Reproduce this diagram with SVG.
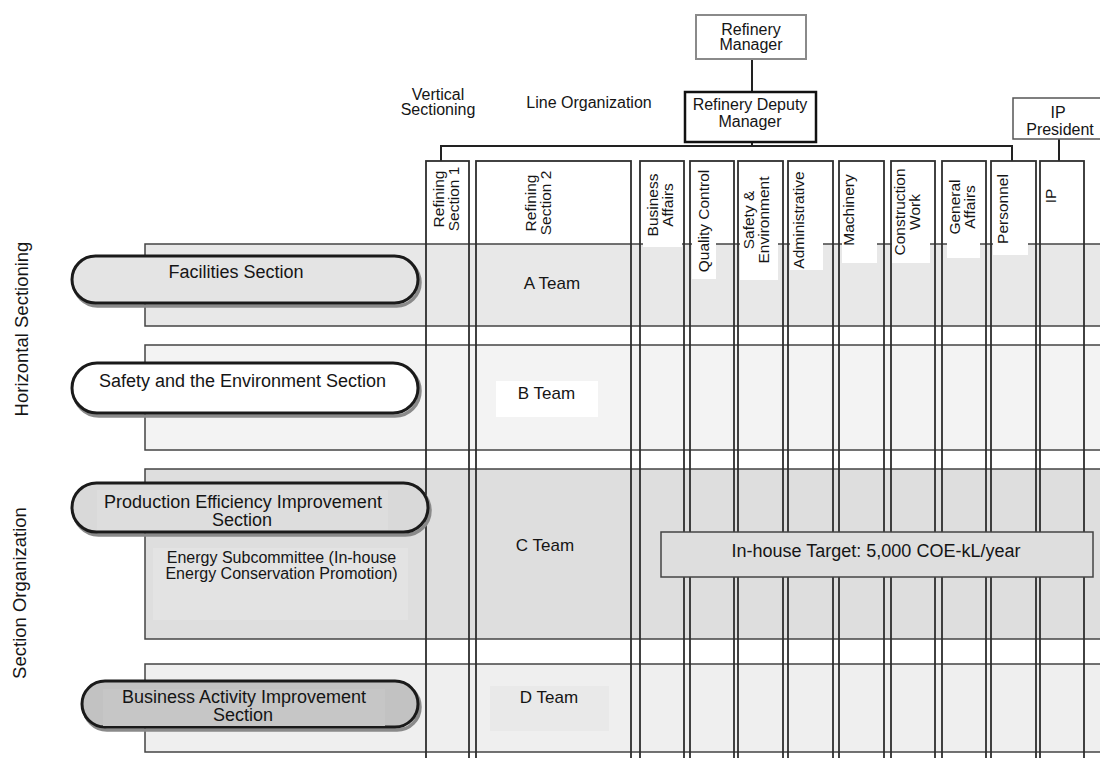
<svg xmlns="http://www.w3.org/2000/svg" width="1100" height="758" viewBox="0 0 1100 758">
<style>
text{font-family:"Liberation Sans",Arial,sans-serif;fill:#151515}
.lbl{font-size:16px}
.col-t{font-size:15.5px}
.pill-t{font-size:18px}
.team{font-size:17px}
.side{font-size:18.5px}
.row{stroke:#444;stroke-width:1.5}
.col{fill:none;stroke:#2e2e2e;stroke-width:1.8}
.pill{stroke:#1a1a1a;stroke-width:3}
.shadow{fill:none;stroke:#8a8a8a;stroke-width:3.5}
.conn{fill:none;stroke:#222;stroke-width:2}
</style>
<rect width="1100" height="758" fill="#ffffff"/>

<!-- Row bands -->
<g id="rows">
<rect id="row-a" class="row" x="145" y="244" width="970" height="82" fill="#e8e8e8"/>
<rect id="row-b" class="row" x="145" y="345" width="970" height="105" fill="#f3f3f3"/>
<rect id="row-c" class="row" x="145" y="469" width="970" height="170" fill="#dedede"/>
<rect id="row-d" class="row" x="145" y="664" width="970" height="88" fill="#efefef"/>
<rect x="153" y="548" width="255" height="72" fill="#e3e3e3"/>
<rect x="490" y="686" width="119" height="45" fill="#e9e9e9"/>
<rect x="496" y="381" width="102" height="36" fill="#ffffff"/>
</g>

<!-- white label backgrounds extending below header -->
<g id="label-bgs" fill="#ffffff">
<rect x="643" y="240" width="39" height="7"/>
<rect x="692" y="240" width="24" height="39"/>
<rect x="740" y="240" width="38" height="40"/>
<rect x="790" y="240" width="33" height="30"/>
<rect x="842" y="240" width="35" height="23"/>
<rect x="892" y="240" width="38" height="23"/>
<rect x="947" y="240" width="33" height="18"/>
<rect x="993" y="240" width="35" height="15"/>
</g>

<!-- Connectors -->
<g id="connectors">
<line class="conn" x1="752" y1="59" x2="752" y2="92"/>
<line class="conn" x1="752" y1="142" x2="752" y2="146"/>
<path class="conn" d="M441 161 V146 H1012 V161"/>
<line class="conn" x1="1059" y1="139" x2="1059" y2="161"/>
</g>

<!-- Column nodes -->
<g id="col-refining1"><rect class="col" x="426" y="161" width="43" height="620"/>
<text class="col-t" text-anchor="middle" transform="translate(443.5,199) rotate(-90)"><tspan x="0" y="0">Refining</tspan><tspan x="0" y="15">Section 1</tspan></text></g>
<g id="col-refining2"><rect class="col" x="476" y="161" width="155" height="620"/>
<text class="col-t" text-anchor="middle" transform="translate(535.5,203) rotate(-90)"><tspan x="0" y="0">Refining</tspan><tspan x="0" y="15">Section 2</tspan></text></g>
<g id="col-business"><rect class="col" x="640" y="161" width="44" height="620"/>
<text class="col-t" text-anchor="middle" transform="translate(657.5,205) rotate(-90)"><tspan x="0" y="0">Business</tspan><tspan x="0" y="15">Affairs</tspan></text></g>
<g id="col-quality"><rect class="col" x="690" y="161" width="44" height="620"/>
<text class="col-t" text-anchor="middle" transform="translate(708.5,221) rotate(-90)">Quality Control</text></g>
<g id="col-safety"><rect class="col" x="738" y="161" width="45" height="620"/>
<text class="col-t" text-anchor="middle" transform="translate(753.5,220) rotate(-90)"><tspan x="0" y="0">Safety &amp;</tspan><tspan x="0" y="15">Environment</tspan></text></g>
<g id="col-admin"><rect class="col" x="788" y="161" width="45" height="620"/>
<text class="col-t" text-anchor="middle" transform="translate(803.5,220) rotate(-90)">Administrative</text></g>
<g id="col-machinery"><rect class="col" x="839" y="161" width="45" height="620"/>
<text class="col-t" text-anchor="middle" transform="translate(853.5,210) rotate(-90)">Machinery</text></g>
<g id="col-construction"><rect class="col" x="891" y="161" width="44" height="620"/>
<text class="col-t" text-anchor="middle" transform="translate(904.5,212) rotate(-90)"><tspan x="0" y="0">Construction</tspan><tspan x="0" y="15">Work</tspan></text></g>
<g id="col-general"><rect class="col" x="942" y="161" width="44" height="620"/>
<text class="col-t" text-anchor="middle" transform="translate(959.5,207) rotate(-90)"><tspan x="0" y="0">General</tspan><tspan x="0" y="15">Affairs</tspan></text></g>
<g id="col-personnel"><rect class="col" x="991" y="161" width="45" height="620"/>
<text class="col-t" text-anchor="middle" transform="translate(1007.5,209) rotate(-90)">Personnel</text></g>
<g id="col-ip"><rect class="col" x="1040" y="161" width="44" height="620"/>
<text class="col-t" text-anchor="middle" transform="translate(1055.5,196) rotate(-90)">IP</text></g>

<!-- Top management nodes -->
<g id="refinery-manager">
<rect x="696" y="15" width="110" height="44" fill="#fff" stroke="#8a8a8a" stroke-width="2"/>
<text class="lbl" text-anchor="middle" x="751" y="35">Refinery</text>
<text class="lbl" text-anchor="middle" x="751" y="50">Manager</text>
</g>
<g id="deputy-manager">
<rect x="685" y="92" width="131" height="50" fill="#fff" stroke="#111" stroke-width="2.5"/>
<text class="lbl" text-anchor="middle" x="750" y="110">Refinery Deputy</text>
<text class="lbl" text-anchor="middle" x="750" y="127">Manager</text>
</g>
<g id="ip-president">
<rect x="1013" y="98" width="100" height="41" fill="#fff" stroke="#555" stroke-width="1.5"/>
<text class="lbl" text-anchor="middle" x="1058" y="118">IP</text>
<text class="lbl" text-anchor="middle" x="1060" y="135">President</text>
</g>

<!-- Header labels -->
<g id="vertical-sectioning">
<text class="lbl" text-anchor="middle" x="438" y="100">Vertical</text>
<text class="lbl" text-anchor="middle" x="438" y="115">Sectioning</text>
</g>
<g id="line-organization"><text class="lbl" text-anchor="middle" x="589" y="108">Line Organization</text></g>
<g id="horizontal-sectioning"><text class="side" text-anchor="middle" transform="translate(28,329) rotate(-90)">Horizontal Sectioning</text></g>
<g id="section-organization"><text class="side" text-anchor="middle" transform="translate(26,593) rotate(-90)">Section Organization</text></g>

<!-- Section pills -->
<g id="facilities-section">
<rect class="shadow" x="74" y="259" width="346" height="47" rx="23.5"/>
<rect class="pill" x="72" y="256" width="346" height="47" rx="23.5" fill="#e4e4e4"/>
<text class="pill-t" text-anchor="middle" x="236" y="278">Facilities Section</text>
</g>
<g id="safety-section">
<rect class="shadow" x="74" y="366" width="346" height="50" rx="25"/>
<rect class="pill" x="72" y="363" width="346" height="50" rx="25" fill="#ffffff"/>
<text class="pill-t" text-anchor="middle" x="242.5" y="386.5">Safety and the Environment Section</text>
</g>
<g id="production-section">
<rect class="shadow" x="74" y="486" width="356" height="49" rx="24.5"/>
<rect class="pill" x="72" y="483" width="356" height="49" rx="24.5" fill="#d9d9d9"/>
<rect x="97" y="490" width="291" height="40" fill="#dddddd"/>
<text class="pill-t" text-anchor="middle" x="243" y="508">Production Efficiency Improvement</text>
<text class="pill-t" text-anchor="middle" x="242" y="526">Section</text>
</g>
<g id="energy-subcommittee">
<text class="lbl" text-anchor="middle" x="281.5" y="563">Energy Subcommittee (In-house</text>
<text class="lbl" text-anchor="middle" x="281.5" y="579">Energy Conservation Promotion)</text>
</g>
<g id="business-section">
<rect class="shadow" x="84" y="684" width="336" height="46" rx="23"/>
<rect class="pill" x="82" y="681" width="336" height="46" rx="23" fill="#c2c2c2"/>
<rect x="103" y="689" width="282" height="37" fill="#c6c6c6"/>
<text class="pill-t" text-anchor="middle" x="244" y="703">Business Activity Improvement</text>
<text class="pill-t" text-anchor="middle" x="243" y="721">Section</text>
</g>

<!-- Teams -->
<g id="team-a"><text class="team" text-anchor="middle" x="552" y="289">A Team</text></g>
<g id="team-b"><text class="team" text-anchor="middle" x="546.5" y="399">B Team</text></g>
<g id="team-c"><text class="team" text-anchor="middle" x="545" y="551">C Team</text></g>
<g id="team-d"><text class="team" text-anchor="middle" x="549" y="703">D Team</text></g>

<!-- Target -->
<g id="inhouse-target">
<rect x="661" y="532" width="432" height="45" fill="#dedede" stroke="#444" stroke-width="1.5"/>
<text class="pill-t" text-anchor="middle" x="876" y="557">In-house Target: 5,000 COE-kL/year</text>
</g>
</svg>
